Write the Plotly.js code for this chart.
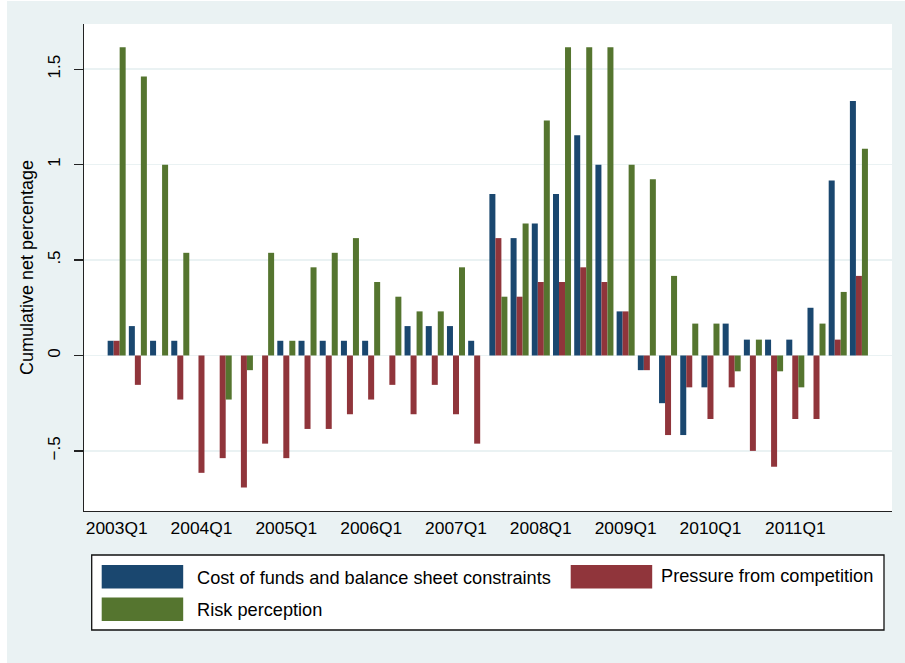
<!DOCTYPE html>
<html><head><meta charset="utf-8">
<script src="https://cdn.plot.ly/plotly-3.0.1.min.js"></script>
<style>
html,body{margin:0;padding:0;background:#ffffff;width:905px;height:663px;overflow:hidden}
#chart{position:absolute;left:7px;top:1px;width:898px;height:662px}
</style></head><body><div id="chart"></div>
<script>
const quarters = ["2003Q1","2003Q2","2003Q3","2003Q4","2004Q1","2004Q2","2004Q3","2004Q4",
  "2005Q1","2005Q2","2005Q3","2005Q4","2006Q1","2006Q2","2006Q3","2006Q4",
  "2007Q1","2007Q2","2007Q3","2007Q4","2008Q1","2008Q2","2008Q3","2008Q4",
  "2009Q1","2009Q2","2009Q3","2009Q4","2010Q1","2010Q2","2010Q3","2010Q4",
  "2011Q1","2011Q2","2011Q3","2011Q4"];
const costOfFunds = [0.077,0.154,0.077,0.077,0,0,0,0,
  0.077,0.077,0.077,0.077,0.077,0,0.154,0.154,
  0.154,0.077,0.846,0.615,0.692,0.846,1.154,1.000,
  0.231,-0.077,-0.250,-0.417,-0.167,0.167,0.083,0.083,
  0.083,0.250,0.917,1.333];
const competition = [0.077,-0.154,0,-0.231,-0.615,-0.538,-0.692,-0.462,
  -0.538,-0.385,-0.385,-0.308,-0.231,-0.154,-0.308,-0.154,
  -0.308,-0.462,0.615,0.308,0.385,0.385,0.462,0.385,
  0.231,-0.077,-0.417,-0.167,-0.333,-0.167,-0.500,-0.583,
  -0.333,-0.333,0.083,0.417];
const riskPerception = [1.615,1.462,1.000,0.538,0,-0.231,-0.077,0.538,
  0.077,0.462,0.538,0.615,0.385,0.308,0.231,0.231,
  0.462,0,0.308,0.692,1.231,1.615,1.615,1.615,
  1.000,0.923,0.417,0.167,0.167,-0.083,0.083,-0.083,
  -0.167,0.167,0.333,1.083];
const seriesNames = ["Cost of funds and balance sheet constraints","Pressure from competition","Risk perception"];
const seriesColors = ["#1a476f","#90353b","#55752f"];
const xTickVals = ["2003Q1","2004Q1","2005Q1","2006Q1","2007Q1","2008Q1","2009Q1","2010Q1","2011Q1"];
const yTickVals = [-0.5,0,0.5,1,1.5];
const yTickText = ["\u2212.5","0",".5","1","1.5"];
const yAxisTitle = "Cumulative net percentage";

const W = 898, H = 662, M = {l:77, r:13, t:23, b:152, pad:0};
const pw = W - M.l - M.r, ph = H - M.t - M.b;
const px = X => (X - M.l) / pw;
const py = Y => (H - M.b - Y) / ph;
const FONT = "Liberation Sans, Arial, sans-serif";
const BG = "#eaf2f3";

const seriesValues = [costOfFunds, competition, riskPerception];
const traces = seriesValues.map((vals, i) => ({
  type: "bar", x: quarters, y: vals, name: seriesNames[i],
  marker: {color: seriesColors[i], line: {width: 0}},
  showlegend: false, hoverinfo: "x+y+name"
}));

// legend drawn in the bottom margin
const shapes = [{type:"rect", xref:"paper", yref:"paper", x0:px(84.7), x1:px(877), y0:py(629), y1:py(554),
  line:{color:"#111", width:1.3}, fillcolor:"#ffffff", layer:"below"}];
const legendItems = [
  {i:0, sx:94.7, sy:564, tx:188, ty:576.5},
  {i:1, sx:563.7, sy:564, tx:652, ty:574.5},
  {i:2, sx:94.7, sy:596.5, tx:188, ty:608.5}
];
const annotations = [];
legendItems.forEach(it => {
  shapes.push({type:"rect", xref:"paper", yref:"paper", x0:px(it.sx), x1:px(it.sx+81.5), y0:py(it.sy+23.5), y1:py(it.sy),
    line:{width:0}, fillcolor:seriesColors[it.i]});
  annotations.push({xref:"paper", yref:"paper", x:px(it.tx), y:py(it.ty), xanchor:"left", yanchor:"middle",
    text:seriesNames[it.i], showarrow:false, font:{family:FONT, size:18.2, color:"#000"}});
});

const layout = {
  width: W, height: H, margin: M,
  paper_bgcolor: BG, plot_bgcolor: "#ffffff",
  font: {family: FONT, color: "#000"},
  barmode: "group", bargap: 0.15, bargroupgap: 0,
  showlegend: false,
  xaxis: {type:"category", categoryorder:"array", categoryarray: quarters,
    range:[-1.54, 36.56], tickmode:"array", tickvals:xTickVals, ticktext:xTickVals,
    ticks:"", showgrid:false, zeroline:false, showline:true, linecolor:"#222", linewidth:1.3,
    tickfont:{size:17.4}, ticklabelstandoff:1, automargin:false, fixedrange:true},
  yaxis: {range:[-0.815, 1.737], tickmode:"array", tickvals:yTickVals, ticktext:yTickText,
    tickangle:-90, ticks:"outside", ticklen:9, tickwidth:1.3, tickcolor:"#222",
    showgrid:true, gridcolor:BG, gridwidth:1.5, zeroline:false,
    showline:true, linecolor:"#222", linewidth:1.3,
    tickfont:{size:17}, ticklabelstandoff:7, automargin:false,
    title:{text:yAxisTitle, font:{size:18}, standoff:6}},
  shapes: shapes, annotations: annotations
};
Plotly.newPlot("chart", traces, layout, {staticPlot:true, displayModeBar:false});
</script></body></html>
